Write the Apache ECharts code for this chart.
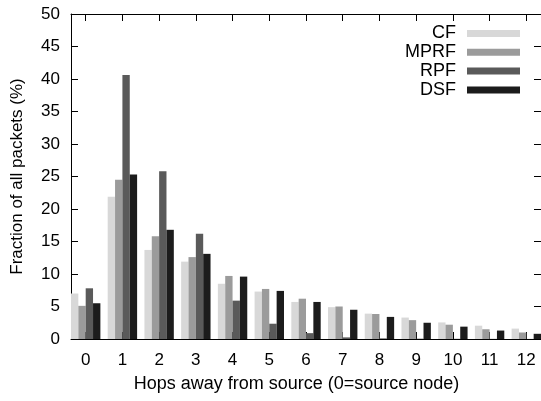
<!DOCTYPE html>
<html>
<head>
<meta charset="utf-8">
<script src="https://cdn.jsdelivr.net/npm/echarts@6/dist/echarts.min.js"></script>
<style>html,body{margin:0;padding:0;background:#fff;}#c{width:541px;height:401px;}</style>
</head>
<body>
<div id="c"></div>
<script>
const hops = [0,1,2,3,4,5,6,7,8,9,10,11,12];
const seriesNames = ['CF','MPRF','RPF','DSF'];
const cf   = [7.0, 21.9, 13.7, 11.9, 8.5, 7.3, 5.7, 4.9, 3.9, 3.3, 2.55, 2.05, 1.6];
const mprf = [5.1, 24.5, 15.8, 12.6, 9.7, 7.7, 6.2, 5.0, 3.85, 2.9, 2.2, 1.5, 1.0];
const rpf  = [7.8, 40.6, 25.8, 16.2, 5.9, 2.35, 0.9, 0.25, 0.1, 0.05, 0.03, 0.02, 0.01];
const dsf  = [5.5, 25.3, 16.8, 13.1, 9.6, 7.4, 5.7, 4.5, 3.4, 2.5, 1.9, 1.3, 0.8];
const yTicks = [0,5,10,15,20,25,30,35,40,45,50];
const colors = ['#d8d8d8','#9b9b9b','#5a5a5a','#1c1c1c'];
const values = [cf, mprf, rpf, dsf];

const FONT = 'Liberation Sans';
const FS = 17;
const chart = echarts.init(document.getElementById('c'), null, {renderer:'canvas'});
const axisCommon = {
  type: 'value', min: -0.4, max: 12.4,
  axisLine: {show: true, onZero: false, lineStyle: {color: '#000', width: 1}},
  axisTick: {show: true, inside: true, length: 7, customValues: hops, lineStyle: {color: '#000'}},
  splitLine: {show: false}
};
const yCommon = {
  type: 'value', min: 0, max: 50, interval: 5,
  axisLine: {show: true, onZero: false, lineStyle: {color: '#000'}},
  axisTick: {show: true, inside: true, length: 7, lineStyle: {color: '#000'}},
  splitLine: {show: false}
};
chart.setOption({
  animation: false,
  backgroundColor: '#fff',
  textStyle: {fontFamily: FONT},
  grid: {left: 71, top: 14, width: 470, height: 325, containLabel: false},
  legend: {
    orient: 'vertical', right: 16, top: 19.5, align: 'right',
    itemWidth: 53, itemHeight: 7, itemGap: 0.8,
    icon: 'rect',
    textStyle: {fontFamily: FONT, fontSize: 18, color: '#000', padding: [0, 6, 0, 0], lineHeight: 18},
    data: seriesNames
  },
  xAxis: [
    Object.assign({}, axisCommon, {
      position: 'bottom',
      name: 'Hops away from source (0=source node)', nameLocation: 'middle', nameGap: 36,
      nameTextStyle: {fontFamily: FONT, fontSize: 18, color: '#000', padding: [0, 19, 0, 0]},
      axisLabel: {show: true, customValues: hops, margin: 13, fontFamily: FONT, fontSize: FS, color: '#000'}
    }),
    Object.assign({}, axisCommon, {position: 'top', axisLabel: {show: false}})
  ],
  yAxis: [
    Object.assign({}, yCommon, {
      position: 'left',
      name: 'Fraction of all packets (%)', nameLocation: 'middle', nameGap: 45,
      nameTextStyle: {fontFamily: FONT, fontSize: FS, color: '#000'},
      axisLabel: {margin: 11, fontFamily: FONT, fontSize: FS, color: '#000'}
    }),
    Object.assign({}, yCommon, {position: 'right', axisLabel: {show: false}})
  ],
  series: seriesNames.map((n, i) => ({
    name: n, type: 'bar', xAxisIndex: 0, yAxisIndex: 0,
    barWidth: 7.35, barGap: '0%',
    itemStyle: {color: colors[i]},
    data: hops.map((h, k) => [h, values[i][k]])
  }))
});
</script>
</body>
</html>
